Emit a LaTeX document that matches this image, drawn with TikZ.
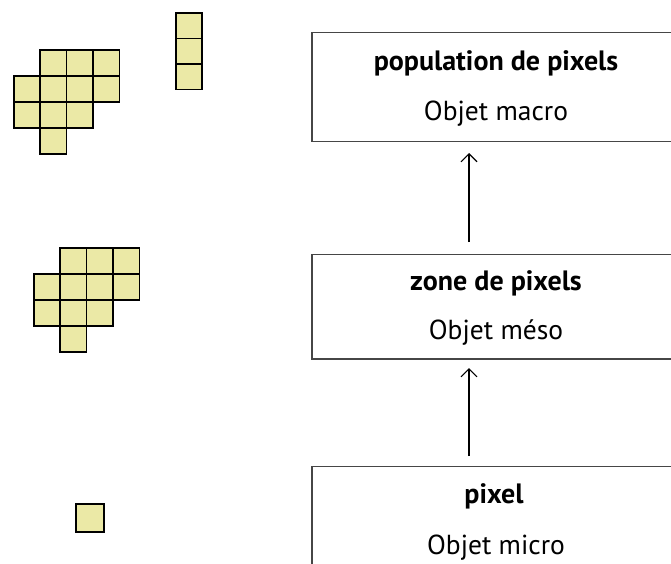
\documentclass[tikz,border=0pt]{standalone}
\usepackage{fontspec}
\setmainfont{PT Sans}
\usetikzlibrary{arrows.meta}
\definecolor{pixfill}{RGB}{235,233,166}
\definecolor{boxline}{RGB}{70,70,70}
\tikzset{
  pix/.style={draw=black,line width=1.8pt,fill=pixfill},
  levelbox/.style={draw=boxline,line width=1.3pt},
  titletext/.style={font=\fontsize{28}{32}\selectfont\bfseries,anchor=center},
  subtext/.style={font=\fontsize{27.5}{32}\selectfont,anchor=center},
  uparrow/.style={line width=1.1pt,-{Straight Barb[length=8pt,width=16pt,line width=1.1pt]}}
}
\begin{document}
\begin{tikzpicture}[x=1pt,y=-1pt]
\useasboundingbox (0,0) rectangle (671,563);
% top-left cluster
\foreach \cx/\cy in {40/50,66.5/50,93/50, 14/76,40/76,66.5/76,93/76, 14/102,40/102,66.5/102, 40/128}
  \draw[pix] (\cx,\cy) rectangle ++(26.5,26);
% column
\foreach \cy in {13,38.5,64}
  \draw[pix] (176,\cy) rectangle ++(26,25.5);
% middle cluster
\foreach \cx/\cy in {60/248,86.5/248,113/248, 34/274,60/274,86.5/274,113/274, 34/300,60/300,86.5/300, 60/326}
  \draw[pix] (\cx,\cy) rectangle ++(26.5,26);
% single pixel
\draw[pix] (76,504) rectangle (104,532);
% boxes
\draw[levelbox] (312,32.5) rectangle (690,141.5);
\draw[levelbox] (312,254.5) rectangle (690,359);
\draw[levelbox] (312,466.5) rectangle (690,600);
\node[titletext] (t1) at (496,63) {population de pixels};
\node[subtext] (s1) at (496,114) {Objet macro};
\node[titletext] (t2) at (496,283) {zone de pixels};
\node[subtext] (s2) at (496,333) {Objet méso};
\node[titletext] (t3) at (494,496) {pixel};
\node[subtext] (s3) at (496,548) {Objet micro};
\coordinate (a1s) at (469,242);
\coordinate (a1e) at (469,153);
\coordinate (a2s) at (469,456);
\coordinate (a2e) at (469,368);
\draw[uparrow] (a1s) -- (a1e);
\draw[uparrow] (a2s) -- (a2e);
\end{tikzpicture}
\end{document}
